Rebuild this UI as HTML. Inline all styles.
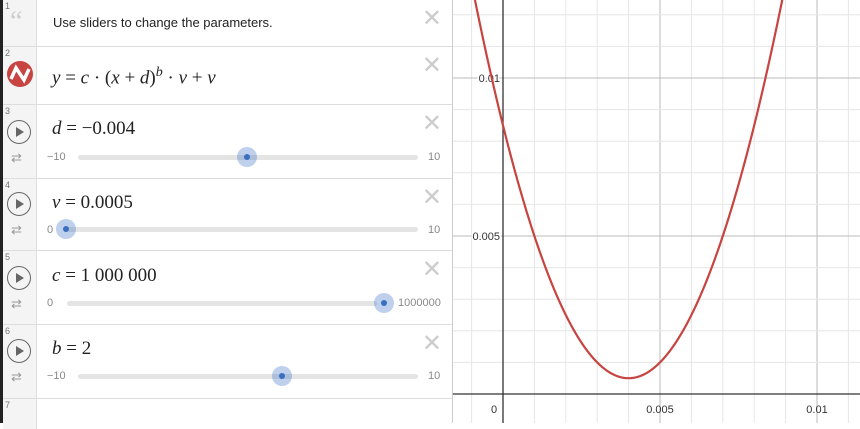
<!DOCTYPE html>
<html><head><meta charset="utf-8"><style>
body{margin:0;width:860px;height:423px;overflow:hidden;background:#fff;font-family:"Liberation Sans",sans-serif;position:relative}
.abs{position:absolute}
.row{position:absolute;left:3px;width:449px;border-bottom:1px solid #ddd;background:#fff}
.gut{position:absolute;left:0;top:0;bottom:0;width:33px;background:#f4f4f4;border-right:1px solid #ddd}
.num{position:absolute;left:2px;top:1px;font-size:9px;color:#777}
.x{position:absolute;right:10px;top:6px;font-size:24px;color:#ccc;font-family:"DejaVu Sans",sans-serif;line-height:24px}
.math{position:absolute;left:49px;font-family:"Liberation Serif",serif;font-size:19px;color:#222}
.math i{font-style:italic}
.play{position:absolute;left:4px;width:22px;height:22px;border:1.5px solid #666;border-radius:50%}
.play:after{content:"";position:absolute;left:8px;top:6px;border-left:8px solid #666;border-top:5px solid transparent;border-bottom:5px solid transparent}
.loop{position:absolute;left:8px;font-size:13px;color:#999}
.track{position:absolute;height:5px;background:#e4e4e4;border-radius:3px}
.thumb{position:absolute;width:20px;height:20px;border-radius:50%;background:rgba(70,120,200,.35)}
.thumb:after{content:"";position:absolute;left:7px;top:7px;width:6px;height:6px;border-radius:50%;background:#3a6fc0}
.lim{position:absolute;font-size:11px;color:#888}
</style></head><body>
<div class="abs" style="left:0;top:0;width:3px;height:423px;background:#222"></div>

<div class="row" style="top:0;height:46px">
<div class="gut"><span class="num">1</span><span style="position:absolute;left:7px;top:6px;font-size:28px;color:#ccc;font-family:'Liberation Serif',serif">“</span></div>
<div class="abs" style="left:50px;top:15px;font-size:13px;color:#222">Use sliders to change the parameters.</div>
<div class="x">✕</div></div>

<div class="row" style="top:47px;height:57px">
<div class="gut"><span class="num">2</span>
<svg class="abs" style="left:3px;top:13px" width="28" height="28"><circle cx="14" cy="14" r="13" fill="#c74440"/><path d="M5 19 L10 8 L18 20 L23 9" stroke="#fff" stroke-width="3.5" fill="none"/></svg></div>
<div class="math" style="top:18px"><i>y</i> = <i>c</i> · (<i>x</i> + <i>d</i>)<sup style="font-size:14px"><i>b</i></sup> · <i>v</i> + <i>v</i></div>
<div class="x">✕</div></div>

<div class="row" style="top:105px;height:73px">
<div class="gut"><span class="num">3</span><div class="play" style="top:15px"></div><div class="loop" style="top:45px">⇄</div></div>
<div class="math" style="top:13px"><i>d</i> = −0.004</div>
<div class="x">✕</div>
<span class="lim" style="left:44px;top:46px">−10</span><div class="track" style="left:75px;width:340px;top:50px"></div><div class="thumb" style="left:234px;top:42px"></div><span class="lim" style="left:425px;top:46px">10</span></div>

<div class="row" style="top:179px;height:71px">
<div class="gut"><span class="num">4</span><div class="play" style="top:13px"></div><div class="loop" style="top:43px">⇄</div></div>
<div class="math" style="top:13px"><i>v</i> = 0.0005</div>
<div class="x">✕</div>
<span class="lim" style="left:44px;top:45px">0</span><div class="track" style="left:64px;width:351px;top:48px"></div><div class="thumb" style="left:53px;top:40px"></div><span class="lim" style="left:425px;top:45px">10</span></div>

<div class="row" style="top:251px;height:73px">
<div class="gut"><span class="num">5</span><div class="play" style="top:15px"></div><div class="loop" style="top:45px">⇄</div></div>
<div class="math" style="top:14px"><i>c</i> = 1 000 000</div>
<div class="x">✕</div>
<span class="lim" style="left:44px;top:46px">0</span><div class="track" style="left:64px;width:310px;top:50px"></div><div class="thumb" style="left:371px;top:42px"></div><span class="lim" style="left:395px;top:46px">1000000</span></div>

<div class="row" style="top:325px;height:73px">
<div class="gut"><span class="num">6</span><div class="play" style="top:14px"></div><div class="loop" style="top:44px">⇄</div></div>
<div class="math" style="top:13px"><i>b</i> = 2</div>
<div class="x">✕</div>
<span class="lim" style="left:44px;top:45px">−10</span><div class="track" style="left:75px;width:340px;top:49px"></div><div class="thumb" style="left:269px;top:41px"></div><span class="lim" style="left:425px;top:45px">10</span></div>

<div class="row" style="top:399px;height:30px;border:0">
<div class="gut"><span class="num">7</span></div></div>

<svg id="g" class="abs" style="left:452px;top:0;border-left:1px solid #ccc" width="408" height="423"></svg>
<script>
const xTicks=[0,0.005,0.01];
const xTickLabels=["0","0.005","0.01"];
const yTicks=[0.005,0.01];
const yTickLabels=["0.005","0.01"];
const dParam=-0.004, vParam=0.0005, cParam=1000000, bParam=2;
const ox=50, oy=394, sx=31400, sy=31600;
const X=x=>ox+x*sx, Y=y=>oy-y*sy;
const svg=document.getElementById('g'), NS="http://www.w3.org/2000/svg";
function mk(t,a){const e=document.createElementNS(NS,t);for(const k in a)e.setAttribute(k,a[k]);svg.appendChild(e);return e;}
for(let i=-2;i<=13;i++){const x=X(i*0.001);const l=mk('line',{x1:x,x2:x,y1:0,y2:423,stroke:i%5==0?'#bbb':'#e6e6e6','stroke-width':1});

}
for(let i=-1;i<=14;i++){const y=Y(i*0.001);const l=mk('line',{x1:0,x2:408,y1:y,y2:y,stroke:i%5==0?'#bbb':'#e6e6e6','stroke-width':1});

}
let a=mk('line',{x1:X(0),x2:X(0),y1:0,y2:423,stroke:'#333','stroke-width':1.3});


a=mk('line',{x1:0,x2:408,y1:Y(0),y2:Y(0),stroke:'#333','stroke-width':1.3});


xTicks.forEach((v,i)=>{const t=mk('text',{x:i==0?X(v)-9:X(v),y:Y(0)+19,'text-anchor':'middle','font-size':11,fill:'#333','font-family':'Liberation Sans'});t.textContent=xTickLabels[i];

});
yTicks.forEach((v,i)=>{const t=mk('text',{x:X(0)-3,y:Y(v)+4,'text-anchor':'end','font-size':11,fill:'#333','font-family':'Liberation Sans',stroke:'#fff','stroke-width':3,'paint-order':'stroke'});t.textContent=yTickLabels[i];

});
let d="";for(let px=0;px<=408;px+=1){const x=(px-ox)/sx;const y=cParam*Math.pow(x+dParam,bParam)*vParam+vParam;d+=(px?"L":"M")+px+" "+Y(y).toFixed(2);}
const c=mk('path',{d:d,fill:'none',stroke:'#c74440','stroke-width':2.2});


</script>
</body></html>
